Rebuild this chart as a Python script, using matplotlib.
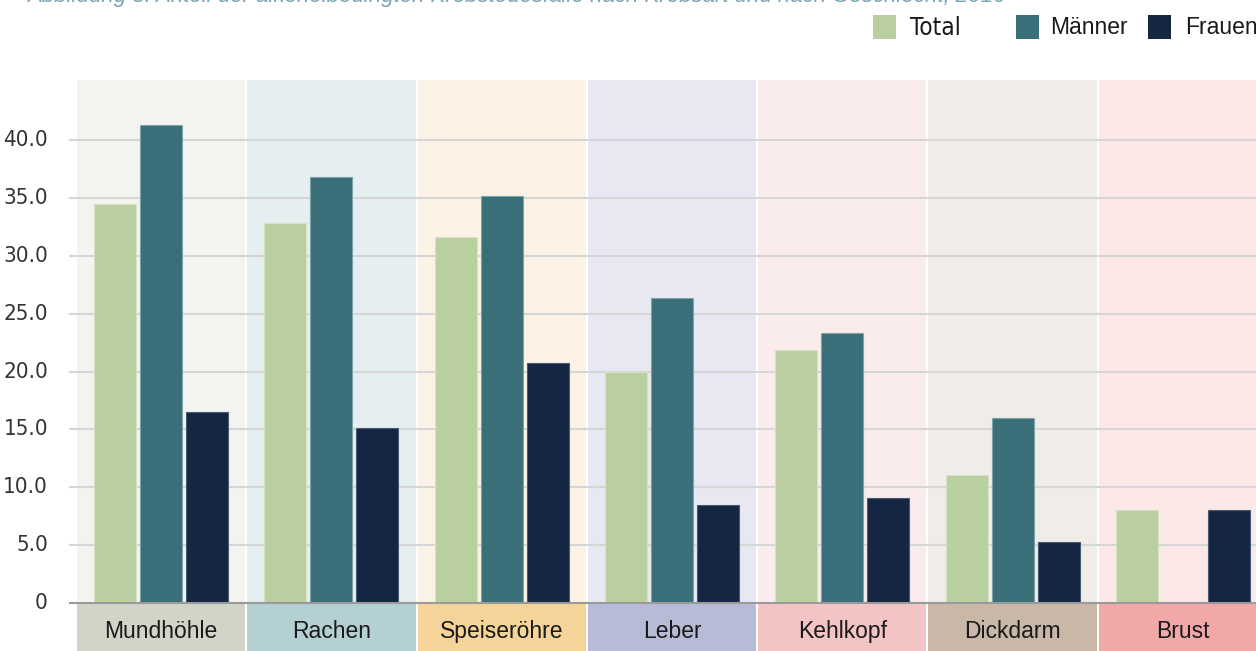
import numpy as np
import matplotlib
matplotlib.use('Agg')
import matplotlib.pyplot as plt
from matplotlib.patches import Rectangle
import matplotlib.transforms as mtransforms

# Data
categories = ['Mundhöhle', 'Rachen', 'Speiseröhre', 'Leber', 'Kehlkopf', 'Dickdarm', 'Brust']
total = [34.5, 32.8, 31.6, 20.0, 21.9, 11.1, 8.0]
maenner = [41.3, 36.8, 35.2, 26.4, 23.3, 16.0, np.nan]
frauen = [16.5, 15.1, 20.7, 8.5, 9.1, 5.3, 8.0]
series_names = ['Total', 'Männer', 'Frauen']
yticks = [0, 5, 10, 15, 20, 25, 30, 35, 40]
ytick_labels = ['0', '5.0', '10.0', '15.0', '20.0', '25.0', '30.0', '35.0', '40.0']
title = 'Abbildung 8: Anteil der alkoholbedingten Krebstodesfälle nach Krebsart und nach Geschlecht, 2016'

# Styles
series_colors = ['#b9cf9f', '#3a6e78', '#152642']
edge_colors = ['#d6e3c6', '#7fa3aa', '#4a5a74']
panel_colors = ['#f3f4ef', '#e5eef0', '#fcf3e6', '#e8e8f2', '#faeceb', '#f0ede8', '#fce8e6']
strip_colors = ['#d0d5c8', '#b5d0d2', '#f5d49a', '#b8bbd6', '#f2c5c4', '#c9b8a8', '#f2a8a8']
narrow = ['DejaVu Sans']
plain = ['Liberation Sans', 'DejaVu Sans']

W, H = 1256, 651
fig = plt.figure(figsize=(W / 100, H / 100), dpi=100)
ax = fig.add_axes([76 / W, 1 - 603 / H, 1192 / W, 523 / H])
ax.set_xlim(-0.5, len(categories) - 0.5)
ax.set_ylim(0, 45.2)
ax.axis('off')

x = np.arange(len(categories))
gap = 1.0 / 170

# panel backgrounds and bottom strips
strip_tr = mtransforms.blended_transform_factory(ax.transData, ax.transAxes)
for i, cat in enumerate(categories):
    ax.axvspan(i - 0.5 + gap, i + 0.5 - gap, color=panel_colors[i], lw=0, zorder=0)
    ax.add_patch(Rectangle((i - 0.5 + gap, -0.15), 1 - 2 * gap, 0.148,
                           transform=strip_tr, color=strip_colors[i], lw=0,
                           clip_on=False, zorder=1))
    ax.text(i, -0.054, cat, transform=strip_tr, ha='center', va='center',
            fontsize=16.5, family=plain, color='#1a1a1a')

# gridlines
for yv in yticks[1:]:
    ax.axhline(yv, xmin=-6 / 1192, xmax=1, color='#d6d6d6', lw=1.5,
               clip_on=False, zorder=1)
ax.axhline(0, xmin=-6 / 1192, xmax=1, color='#9a9a9a', lw=1.5,
           clip_on=False, zorder=3)

# y tick labels
ytr = mtransforms.blended_transform_factory(ax.transAxes, ax.transData)
for yv, lab in zip(yticks, ytick_labels):
    ax.text(-28 / 1192, yv, lab, transform=ytr, ha='right', va='center',
            fontsize=16, family=narrow, fontstretch='condensed', color='#333333')

# bars
offset = 46 / 170.3
width = 42 / 170.3
for k, vals in enumerate([total, maenner, frauen]):
    v = np.array(vals, dtype=float)
    m = ~np.isnan(v)
    ax.bar(x[m] + (k - 1) * offset, v[m], width=width, color=series_colors[k],
           edgecolor=edge_colors[k], lw=0.8, zorder=2)

# legend
leg_x = [873, 1016, 1148]
txt_x = [910, 1050, 1185]
fams = [narrow, plain, plain]
sizes = [17.5, 16.5, 16.5]
for k, name in enumerate(series_names):
    fig.patches.append(Rectangle((leg_x[k] / W, 1 - 39 / H), 23 / W, 24 / H,
                                 transform=fig.transFigure, facecolor=series_colors[k],
                                 edgecolor='none'))
    fig.text(txt_x[k] / W, 1 - 28 / H, name, ha='left', va='center',
             fontsize=sizes[k], family=fams[k],
             fontstretch='condensed' if k == 0 else 'normal', color='#1a1a1a')

# cropped title at the top
fig.text(1005 / W, 1 - 2 / H, title, ha='right', va='baseline', fontsize=16,
         family=plain, style='italic', color='#7aa3b5')

fig.savefig('out.png', dpi=100)
